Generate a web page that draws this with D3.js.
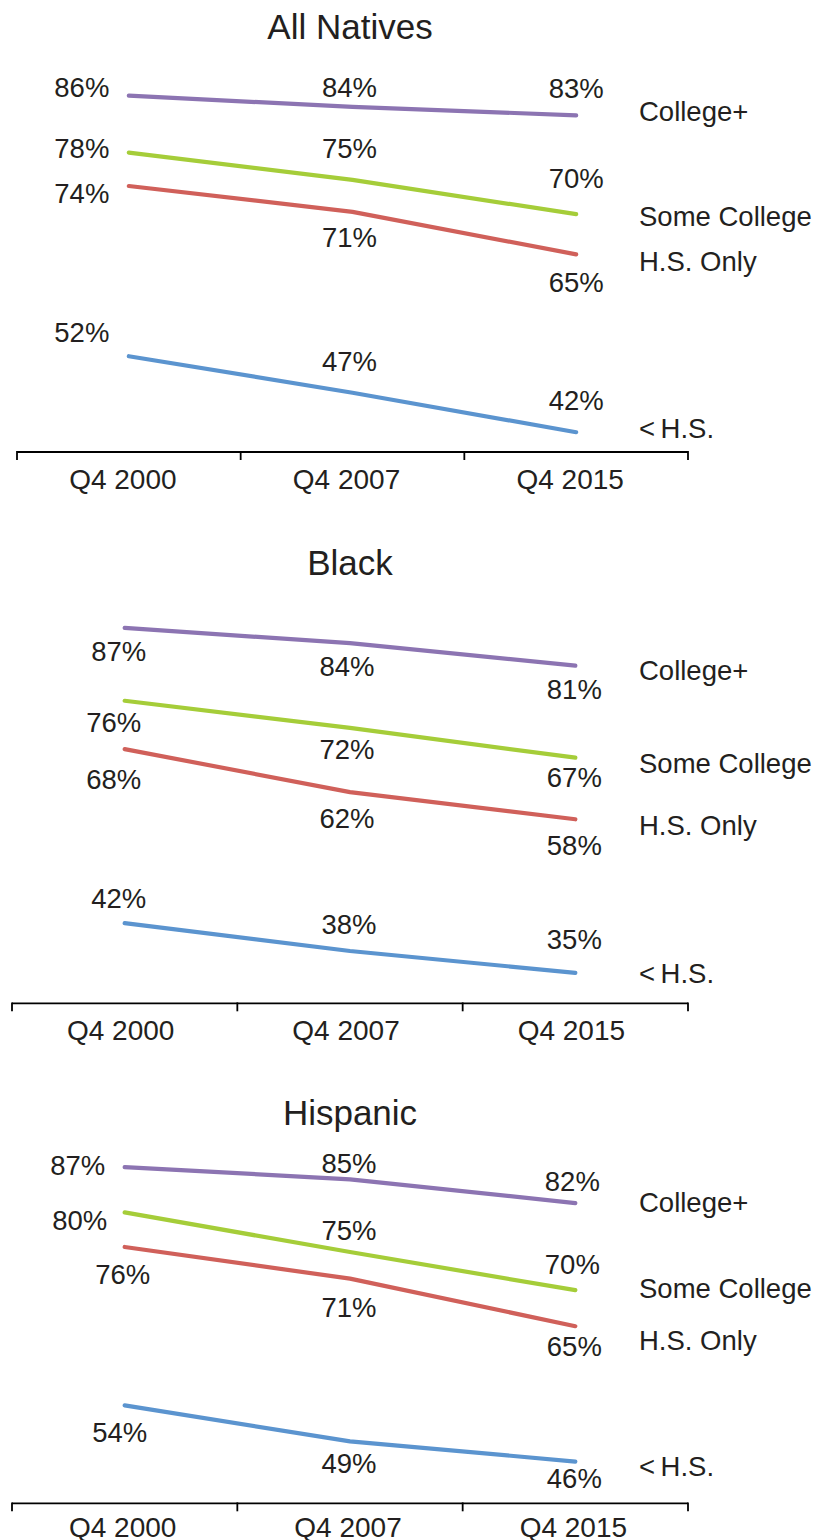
<!DOCTYPE html>
<html>
<head>
<meta charset="utf-8">
<script src="https://cdn.jsdelivr.net/npm/d3@7"></script>
<style>
  html, body { margin: 0; padding: 0; background: #fff; }
  svg { display: block; }
  text { font-family: "Liberation Sans", Arial, Helvetica, sans-serif; fill: #231f20; }
</style>
</head>
<body>
<svg id="chart" width="816" height="1540"></svg>
<script>
// ---------------- DATA ----------------
const categories = ["Q4 2000", "Q4 2007", "Q4 2015"];
const seriesNames = ["College+", "Some College", "H.S. Only", "<\u2009H.S."];
const panelTitles = ["All Natives", "Black", "Hispanic"];

// values in percent, order: College+, Some College, H.S. Only, < H.S.
const allNativesValues = [
  [85.9, 84.4, 83.3],
  [78.4, 74.8, 70.3],
  [74.0, 70.6, 65.0],
  [51.6, 46.8, 41.6]
];
const blackValues = [
  [86.7, 84.4, 81.0],
  [75.7, 71.6, 67.1],
  [68.4, 61.9, 57.8],
  [42.1, 37.9, 34.6]
];
const hispanicValues = [
  [86.7, 85.0, 81.7],
  [80.4, 74.9, 69.6],
  [75.6, 71.2, 64.6],
  [53.6, 48.6, 45.8]
];
const panelValues = [allNativesValues, blackValues, hispanicValues];
const yDomains = [[39, 90], [30, 90], [40, 90]];

// ---------------- STYLE / LAYOUT ----------------
const colors = ["#8c74b2", "#a5cd39", "#d0605a", "#5b94cf"];
const layout = [
  { titleY: 27,   xRange: [17, 688], yRange: [452, 64.4],      tickPad: 17, tickDx: -6 },
  { titleY: 563,  xRange: [12, 688], yRange: [1003.3, 606.1],  tickPad: 17, tickDx: -4 },
  { titleY: 1113, xRange: [12, 688], yRange: [1503.3, 1143.3], tickPad: 14, tickDx: -2 }
];
// data label offsets [dx, dy] from the point to label centre
const labelOffsets = [
  [[[-47,-8],[-3,-20],[0,-27]], [[-47,-4],[-3,-32],[0,-36]], [[-47,7],[-3,26],[0,28]], [[-47,-24],[-3,-31],[0,-32]]],
  [[[-6,23],[-3,23],[-1,24]],   [[-11,22],[-3,21],[-1,20]],  [[-11,30],[-3,26],[-1,26]], [[-6,-25],[-1,-27],[-1,-33]]],
  [[[-47,-2],[-1,-16],[-3,-22]],[[-45,8],[-1,-22],[-3,-26]], [[-2,27],[-1,29],[-1,20]],  [[-5,27],[-1,22],[-1,17]]]
];
// legend label vertical offsets relative to the last point
const legendOffsets = [
  [-4, 2, 7, -4],
  [5, 6, 6, 1],
  [-1, -2, 14, 5]
];
const legendX = 639;

const svg = d3.select("#chart");

panelValues.forEach((vals, p) => {
  const L = layout[p];
  const x = d3.scaleBand().domain(categories).range(L.xRange).padding(0);
  const cx = c => x(c) + x.bandwidth() / 2;
  const y = d3.scaleLinear().domain(yDomains[p]).range(L.yRange);
  const g = svg.append("g");

  // title
  g.append("text")
    .attr("x", 350).attr("y", L.titleY).attr("dy", "0.35em")
    .attr("text-anchor", "middle")
    .style("font-size", "35px")
    .text(panelTitles[p]);

  // axis
  const axisY = L.yRange[0];
  const axis = d3.axisBottom(x).tickSize(0).tickPadding(L.tickPad);
  const ag = g.append("g").attr("transform", `translate(0,${axisY})`).call(axis);
  ag.select(".domain").remove();
  ag.selectAll("text")
    .attr("dx", L.tickDx)
    .style("font-size", "28px")
    .style("font-family", "\"Liberation Sans\", Arial, sans-serif")
    .attr("fill", "#231f20");
  g.append("line")
    .attr("x1", L.xRange[0]).attr("x2", L.xRange[1])
    .attr("y1", axisY).attr("y2", axisY)
    .attr("stroke", "#000").attr("stroke-width", 1.8);
  const bounds = categories.map(c => x(c)).concat([L.xRange[1]]);
  g.selectAll(".btick").data(bounds).enter().append("line")
    .attr("x1", d => d).attr("x2", d => d)
    .attr("y1", axisY - 0.9).attr("y2", axisY + 8)
    .attr("stroke", "#000").attr("stroke-width", 1.8);

  // lines
  const line = d3.line().x((d, i) => cx(categories[i])).y(d => y(d));
  vals.forEach((s, si) => {
    g.append("path")
      .attr("d", line(s))
      .attr("fill", "none")
      .attr("stroke", colors[si])
      .attr("stroke-width", 4.2)
      .attr("stroke-linecap", "round")
      .attr("stroke-linejoin", "round");

    // data labels
    s.forEach((v, i) => {
      const off = labelOffsets[p][si][i];
      g.append("text")
        .attr("x", cx(categories[i]) + off[0])
        .attr("y", y(v) + off[1])
        .attr("dy", "0.35em")
        .attr("text-anchor", "middle")
        .style("font-size", "27.5px")
        .text(Math.round(v) + "%");
    });

    // legend label
    g.append("text")
      .attr("x", legendX)
      .attr("y", y(s[s.length - 1]) + legendOffsets[p][si])
      .attr("dy", "0.35em")
      .style("font-size", "27.5px")
      .text(seriesNames[si]);
  });
});
</script>
</body>
</html>
